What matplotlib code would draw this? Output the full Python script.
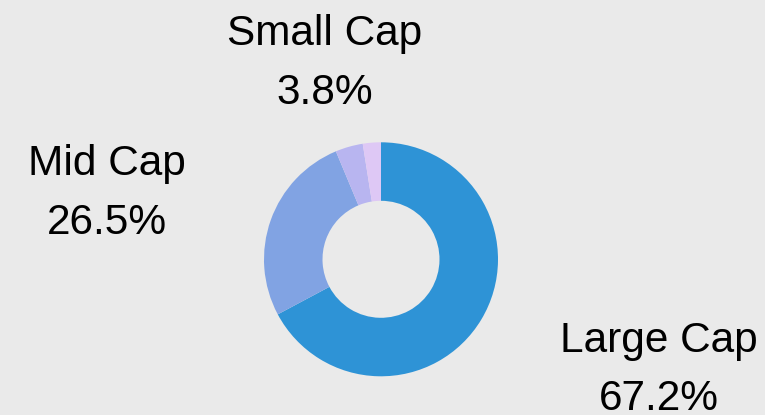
import matplotlib
matplotlib.use("Agg")
import matplotlib.pyplot as plt

# market-cap split of the portfolio
categories = ["Large Cap", "Mid Cap", "Small Cap", "Other"]
shares = [67.2, 26.5, 3.8, 2.5]
colors = ["#2e93d6", "#81a3e3", "#b8b5f0", "#dec8f5"]

# label placement in pixel coords (x, baseline y from top); None = no label
label_pos = [(659, 352), (107, 175), (325, 45), None]

W, H = 765, 415
bg = "#eaeaea"

fig = plt.figure(figsize=(W / 100, H / 100), dpi=100, facecolor=bg)
ax = fig.add_axes([0, 0, 1, 1])
ax.set_facecolor(bg)

outer = 117
ax.pie(shares, colors=colors, startangle=90, counterclock=False,
       center=(381, H - 259.3), radius=outer,
       wedgeprops=dict(width=outer * 0.5, linewidth=0),
       frame=True)
ax.set_xlim(0, W)
ax.set_ylim(0, H)
ax.set_aspect("equal")
ax.axis("off")

fs = 30.5
for name, val, pos in zip(categories, shares, label_pos):
    if pos is None:
        continue
    x, y = pos
    ax.text(x, H - y, name, ha="center", va="baseline", fontsize=fs,
            family="Liberation Sans", color="black")
    ax.text(x, H - y - 58.5, f"{val:.1f}%", ha="center", va="baseline",
            fontsize=fs, family="Liberation Sans", color="black")

fig.savefig("out.png", dpi=100, facecolor=bg)
